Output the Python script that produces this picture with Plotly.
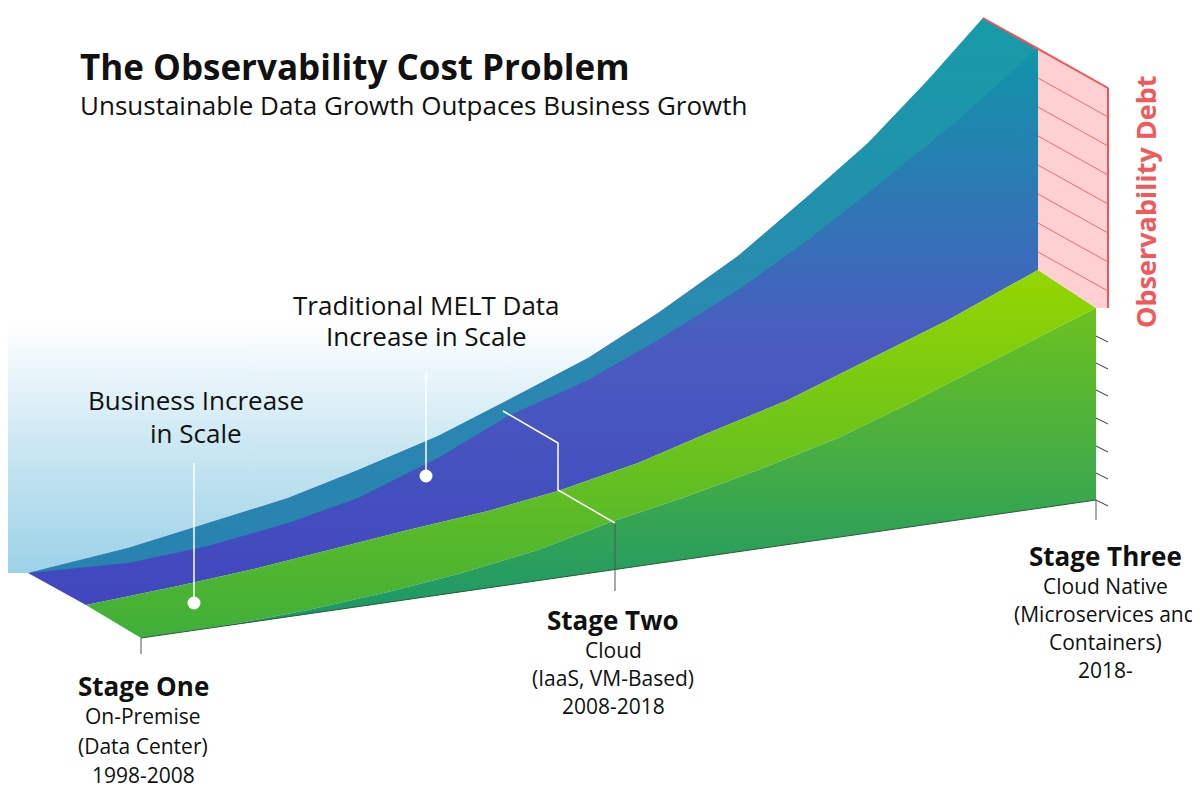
import plotly.graph_objects as go

H = 786  # picture height, pixel y -> data y

# curve points (pixel coords, y downwards)
melt_back_x = [20, 120, 200, 280, 350, 430, 500, 580, 650, 730, 800, 860, 920, 975]
melt_back_y = [565, 540, 515, 490, 462, 428, 392, 350, 305, 248, 188, 135, 72, 10]
melt_front_x = [20, 120, 200, 280, 350, 430, 500, 580, 650, 730, 800, 870, 950, 1030]
melt_front_y = [565, 555, 538, 515, 490, 450, 408, 372, 332, 282, 232, 177, 112, 40]
biz_back_x = [78, 170, 250, 330, 400, 480, 550, 630, 700, 780, 850, 940, 1030]
biz_back_y = [597, 578, 560, 540, 522, 503, 483, 455, 425, 392, 357, 312, 262]
biz_front_x = [133, 220, 300, 380, 450, 530, 600, 680, 750, 830, 900, 990, 1088]
biz_front_y = [630, 617, 602, 584, 566, 542, 515, 488, 462, 430, 396, 350, 300]
base_x = [133, 1088]
base_y = [630, 492]
fade_x = [0, 20, 120, 200, 280, 350, 430, 500, 580, 650, 730, 800, 860, 920, 975, 0]
fade_y = [565, 565, 540, 515, 490, 462, 428, 392, 350, 305, 248, 188, 135, 72, 10, 10]

debt_x = [1030, 1100, 1100, 1088, 1030]
debt_y = [40, 80, 300, 300, 262]
hatch_left_y = [70, 99, 128, 157, 186, 215, 244]
tick_y = [328, 355, 382, 410, 438, 465, 492]


def Y(v):
    return [H - a for a in v]


fig = go.Figure()


def poly(xs, ys, grad=None, color=None):
    kw = dict(fill='toself', mode='lines', line=dict(width=0), hoverinfo='skip', showlegend=False)
    if grad:
        kw['fillgradient'] = dict(type='vertical', colorscale=grad)
    else:
        kw['fillcolor'] = color
    fig.add_trace(go.Scatter(x=xs, y=Y(ys), **kw))


def seg(xs, ys, color, width=1.5):
    fig.add_trace(go.Scatter(x=xs, y=Y(ys), mode='lines', line=dict(color=color, width=width),
                             hoverinfo='skip', showlegend=False))


# light blue fade above the curve
poly(fade_x, fade_y, grad=[[0, '#9dd2e8'], [0.2, '#c4e4f1'], [0.45, '#ffffff'], [1, '#ffffff']])

# MELT ribbon (teal to indigo)
poly(melt_back_x + [1030] + biz_back_x[::-1] + [20], melt_back_y + [40] + biz_back_y[::-1] + [565],
     grad=[[0, '#4146be'], [0.45, '#4a5cc0'], [1, '#0a9ba6']])
poly(melt_back_x + melt_front_x[::-1], melt_back_y + melt_front_y[::-1], color='rgba(30,155,170,0.7)')

# business ribbon (green)
poly(biz_back_x + biz_front_x[::-1], biz_back_y + biz_front_y[::-1],
     grad=[[0, '#3fae3a'], [1, '#95d600']])
poly(biz_front_x + base_x[::-1], biz_front_y + base_y[::-1],
     grad=[[0, '#169470'], [1, '#6cc21e']])
seg(base_x, base_y, '#2d5a3a', 1)

# observability debt face
poly(debt_x, debt_y, color='#ffd0d2')
for hy in hatch_left_y:
    seg([1030, 1100], [hy, hy + 39], '#f46a6a', 1)
seg([975, 1100], [10, 80], '#f25555', 2)
seg([1100, 1100], [80, 300], '#f25555', 2)
for ty in tick_y:
    seg([1088, 1100], [ty, ty + 6], '#333333', 1)

# stage divider and leaders
seg([495, 550, 550, 607], [403, 435, 482, 515], 'white', 1.5)
seg([607, 607], [515, 583], '#555555', 1)
seg([133, 133], [630, 646], '#555555', 1)
seg([1088, 1088], [492, 512], '#555555', 1)
seg([186, 186], [455, 595], 'white', 1.5)
seg([418, 418], [365, 468], 'white', 1.5)
fig.add_trace(go.Scatter(x=[186, 418], y=Y([595, 468]), mode='markers',
                         marker=dict(color='white', size=13), hoverinfo='skip', showlegend=False))

font = 'Open Sans'
texts = [
    (70, 58, '<b>The Observability Cost Problem</b>', 35, 'left'),
    (70, 97, 'Unsustainable Data Growth Outpaces Business Growth', 26, 'left'),
    (188, 392, 'Business Increase', 26, 'center'),
    (188, 425, 'in Scale', 26, 'center'),
    (418, 297, 'Traditional MELT Data', 26, 'center'),
    (418, 328, 'Increase in Scale', 26, 'center'),
    (135, 678, '<b>Stage One</b>', 26, 'center'),
    (135, 708, 'On-Premise', 21, 'center'),
    (135, 738, '(Data Center)', 21, 'center'),
    (135, 767, '1998-2008', 21, 'center'),
    (605, 612, '<b>Stage Two</b>', 26, 'center'),
    (605, 642, 'Cloud', 21, 'center'),
    (605, 670, '(IaaS, VM-Based)', 21, 'center'),
    (605, 698, '2008-2018', 21, 'center'),
    (1097, 548, '<b>Stage Three</b>', 26, 'center'),
    (1097, 578, 'Cloud Native', 21, 'center'),
    (1097, 606, '(Microservices and', 21, 'center'),
    (1097, 634, 'Containers)', 21, 'center'),
    (1097, 662, '2018-', 21, 'center'),
]
for tx, ty, t, s, al in texts:
    fig.add_annotation(x=tx, y=H - ty, text=t, showarrow=False, xanchor=al, yanchor='middle',
                       font=dict(family=font, size=s, color='#111111'))
fig.add_annotation(x=1137, y=H - 194, text='<b>Observability Debt</b>', textangle=-90, showarrow=False,
                   font=dict(family=font, size=27, color='#f05a5a'))

fig.update_layout(
    width=1200, height=786, margin=dict(l=0, r=0, t=0, b=0),
    plot_bgcolor='white', paper_bgcolor='white',
    xaxis=dict(range=[0, 1200], visible=False, fixedrange=True),
    yaxis=dict(range=[0, H], visible=False, fixedrange=True),
)
fig.write_html("out.html")
